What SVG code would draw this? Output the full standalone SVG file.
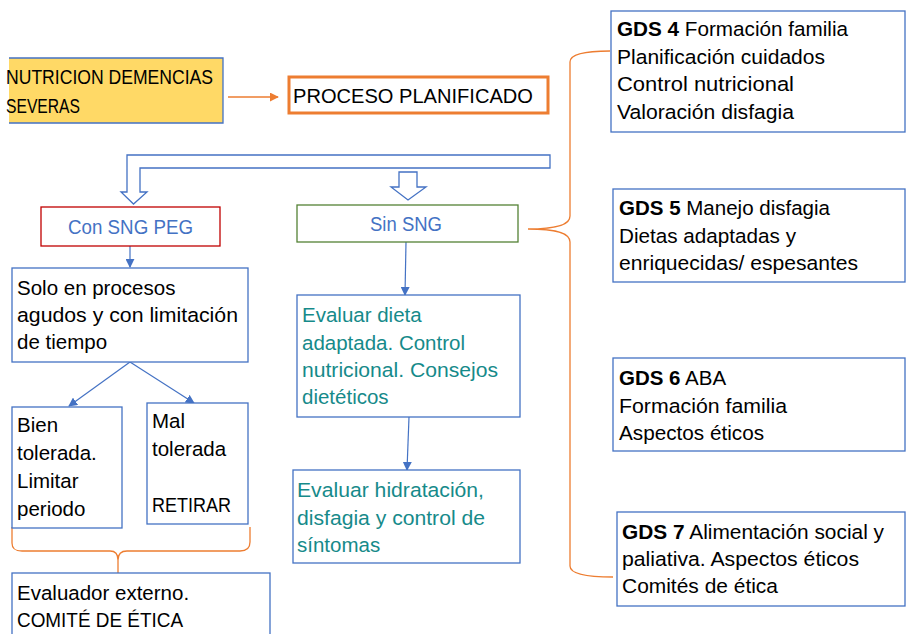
<svg xmlns="http://www.w3.org/2000/svg" width="907" height="634" viewBox="0 0 907 634">
<defs>
<style>
text{font-family:"Liberation Sans",Arial,sans-serif;font-size:20.5px;fill:#000}
.box{fill:#fff;stroke:#4472C4;stroke-width:1.3}
.teal{fill:#168A8A}
.blue{fill:#4472C4}
.con{stroke:#4472C4;stroke-width:1.2;fill:none}
.brace{stroke:#ED7D31;stroke-width:1.3;fill:none}
.b{font-weight:bold}
</style>
<marker id="ab" viewBox="0 0 10 10" refX="9" refY="5" markerWidth="9" markerHeight="9" markerUnits="userSpaceOnUse" orient="auto">
<path d="M0,0 L10,5 L0,10 z" fill="#4472C4"/>
</marker>
<marker id="ao" viewBox="0 0 10 10" refX="9" refY="5" markerWidth="9" markerHeight="9" markerUnits="userSpaceOnUse" orient="auto">
<path d="M0,0 L10,5 L0,10 z" fill="#ED7D31"/>
</marker>
</defs>
<rect width="907" height="634" fill="#fff"/>

<g id="connectors">
<line x1="228" y1="97" x2="278" y2="97" stroke="#ED7D31" stroke-width="1.3" marker-end="url(#ao)"/>
<path d="M550,155 L127,155 L127,192 L121,192 L133.5,204 L147,192 L140,192 L140,168 L550,168 Z" fill="#fff" stroke="#4472C4" stroke-width="1.3"/>
<path d="M399,172 L417,172 L417,187 L426,187 L408,200 L391,187 L399,187 Z" fill="#fff" stroke="#4472C4" stroke-width="1.3"/>
<line class="con" x1="130" y1="246" x2="130" y2="267" marker-end="url(#ab)"/>
<line class="con" x1="406" y1="242" x2="405" y2="295" marker-end="url(#ab)"/>
<line class="con" x1="409" y1="417" x2="407" y2="470" marker-end="url(#ab)"/>
<line class="con" x1="130" y1="362" x2="69" y2="406" marker-end="url(#ab)"/>
<line class="con" x1="130" y1="362" x2="194" y2="403" marker-end="url(#ab)"/>
<path class="brace" d="M610,51 C584,51 570,54 570,62 L570,216 C570,224 560,229 528,229 C560,229 570,234 570,242 L570,566 C570,574 588,577 613,577"/>
<path class="brace" d="M12,527 L12,543 C12,549 15,551 22,551 L110,551 C115,551 118,554 118,560 L118,573 M118,560 C118,554 121,551 127,551 L240,551 C247,551 250,548 250,542 L250,527"/>
</g>

<g id="nutricion">
<rect x="9" y="58" width="214" height="65" fill="#FFD966"/>
<path d="M9,58 L223,58 L223,123 L9,123" fill="none" stroke="#4472C4" stroke-width="1.3"/>
<text x="6" y="84" textLength="207" lengthAdjust="spacingAndGlyphs">NUTRICION DEMENCIAS</text>
<text x="6" y="113" textLength="74" lengthAdjust="spacingAndGlyphs">SEVERAS</text>
</g>

<g id="proceso">
<rect x="289" y="77" width="259" height="36" fill="#fff" stroke="#ED7D31" stroke-width="3"/>
<text x="293" y="103" textLength="240" lengthAdjust="spacingAndGlyphs">PROCESO PLANIFICADO</text>
</g>

<g id="con-sng">
<rect x="41" y="207" width="179" height="39" fill="#fff" stroke="#C00000" stroke-width="1.3"/>
<text class="blue" x="68" y="234" textLength="125" lengthAdjust="spacingAndGlyphs">Con SNG PEG</text>
</g>

<g id="sin-sng">
<rect x="297" y="205" width="221" height="37" fill="#fff" stroke="#548235" stroke-width="1.3"/>
<text class="blue" x="370" y="231" textLength="72" lengthAdjust="spacingAndGlyphs">Sin SNG</text>
</g>

<g id="solo">
<rect class="box" x="12" y="268" width="236" height="94"/>
<text x="17" y="295">Solo en procesos</text>
<text x="17" y="322" textLength="221" lengthAdjust="spacingAndGlyphs">agudos y con limitación</text>
<text x="17" y="349">de tiempo</text>
</g>

<g id="bien">
<rect class="box" x="12" y="407" width="110" height="121"/>
<text x="17" y="432">Bien</text>
<text x="17" y="460">tolerada.</text>
<text x="17" y="488">Limitar</text>
<text x="17" y="516">periodo</text>
</g>

<g id="mal">
<rect class="box" x="147" y="403" width="101" height="121"/>
<text x="152" y="428">Mal</text>
<text x="152" y="456">tolerada</text>
<text x="152" y="512" textLength="79" lengthAdjust="spacingAndGlyphs">RETIRAR</text>
</g>

<g id="evaluador">
<rect class="box" x="12" y="573" width="258" height="70"/>
<text x="17" y="600">Evaluador externo.</text>
<text x="17" y="627" textLength="166" lengthAdjust="spacingAndGlyphs">COMITÉ DE ÉTICA</text>
</g>

<g id="dieta">
<rect class="box" x="297" y="295" width="223" height="122"/>
<text class="teal" x="302" y="322">Evaluar dieta</text>
<text class="teal" x="302" y="350">adaptada. Control</text>
<text class="teal" x="302" y="377" textLength="196" lengthAdjust="spacingAndGlyphs">nutricional. Consejos</text>
<text class="teal" x="302" y="404">dietéticos</text>
</g>

<g id="hidratacion">
<rect class="box" x="293" y="470" width="227" height="93"/>
<text class="teal" x="297" y="497" textLength="187" lengthAdjust="spacingAndGlyphs">Evaluar hidratación,</text>
<text class="teal" x="297" y="525" textLength="188" lengthAdjust="spacingAndGlyphs">disfagia y control de</text>
<text class="teal" x="297" y="552">síntomas</text>
</g>

<g id="gds4">
<rect class="box" x="611" y="11" width="294" height="121"/>
<text x="617" y="36" textLength="231" lengthAdjust="spacingAndGlyphs"><tspan class="b">GDS 4</tspan> Formación familia</text>
<text x="617" y="64" textLength="208" lengthAdjust="spacingAndGlyphs">Planificación cuidados</text>
<text x="617" y="91" textLength="177" lengthAdjust="spacingAndGlyphs">Control nutricional</text>
<text x="617" y="119" textLength="177" lengthAdjust="spacingAndGlyphs">Valoración disfagia</text>
</g>

<g id="gds5">
<rect class="box" x="613" y="189" width="292" height="93"/>
<text x="619" y="215" textLength="211" lengthAdjust="spacingAndGlyphs"><tspan class="b">GDS 5</tspan> Manejo disfagia</text>
<text x="619" y="243" textLength="177" lengthAdjust="spacingAndGlyphs">Dietas adaptadas y</text>
<text x="619" y="270" textLength="239" lengthAdjust="spacingAndGlyphs">enriquecidas/ espesantes</text>
</g>

<g id="gds6">
<rect class="box" x="613" y="358" width="292" height="93"/>
<text x="619" y="385"><tspan class="b">GDS 6</tspan> ABA</text>
<text x="619" y="413" textLength="168" lengthAdjust="spacingAndGlyphs">Formación familia</text>
<text x="619" y="440" textLength="145" lengthAdjust="spacingAndGlyphs">Aspectos éticos</text>
</g>

<g id="gds7">
<rect class="box" x="617" y="512" width="288" height="94"/>
<text x="622" y="539" textLength="262" lengthAdjust="spacingAndGlyphs"><tspan class="b">GDS 7</tspan> Alimentación social y</text>
<text x="622" y="566" textLength="237" lengthAdjust="spacingAndGlyphs">paliativa. Aspectos éticos</text>
<text x="622" y="593" textLength="156" lengthAdjust="spacingAndGlyphs">Comités de ética</text>
</g>
</svg>
